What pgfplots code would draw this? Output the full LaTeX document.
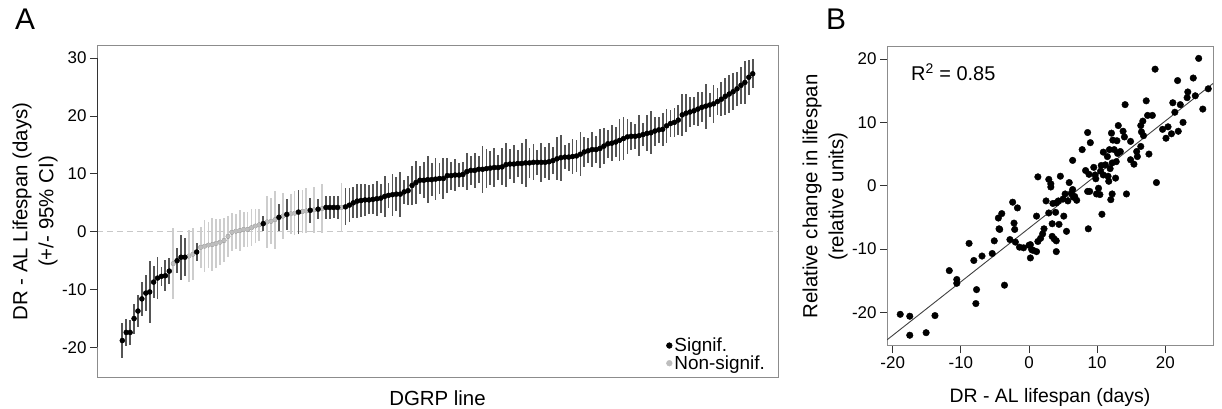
\documentclass[border=0pt]{standalone}
\usepackage{fontspec}
\setmainfont{Liberation Sans}
\usepackage{pgfplots}
\usepackage{pgfplotstable}
\pgfplotsset{compat=1.18}
\definecolor{sigbar}{HTML}{555555}
\definecolor{nsbar}{HTML}{CDCDCD}
\definecolor{nspt}{HTML}{BDBDBD}
\definecolor{framec}{HTML}{8C8C8C}
\definecolor{zerol}{HTML}{C8C8C8}

\pgfplotstableread{
i v e
1 -18.8 3.0
2 -17.4 2.3
3 -17.4 2.2
4 -15.0 2.6
5 -13.7 2.7
6 -11.6 3.0
7 -10.6 3.1
8 -10.4 5.4
9 -8.7 2.7
10 -8.0 3.6
11 -7.7 1.6
12 -7.6 2.7
13 -6.8 2.2
15 -5.0 2.2
16 -4.4 3.9
17 -4.4 3.3
20 -3.5 1.6
37 1.4 1.3
41 2.5 2.3
43 3.0 2.7
46 3.4 3.8
49 3.7 2.2
51 3.9 1.7
53 4.2 2.0
54 4.2 2.0
55 4.2 1.9
56 4.2 2.0
58 4.3 3.2
59 4.6 3.0
60 5.0 2.7
61 5.3 3.0
62 5.4 2.9
63 5.5 2.8
64 5.5 2.5
65 5.6 2.6
66 5.7 3.0
67 5.8 2.5
68 6.1 3.5
69 6.3 2.2
70 6.4 3.6
71 6.5 2.9
72 6.5 3.9
73 6.9 2.1
74 7.1 2.5
75 8.0 3.3
76 8.5 3.7
77 8.9 2.4
78 8.9 3.1
79 9.0 4.1
80 9.0 2.8
81 9.1 3.6
82 9.2 2.6
83 9.2 3.5
84 9.7 3.0
85 9.7 2.4
86 9.8 2.8
87 9.8 2.0
88 9.9 2.2
89 10.4 3.2
90 10.6 2.5
91 10.6 3.0
92 10.8 2.3
93 10.8 4.1
94 10.9 3.4
95 11.0 3.0
96 11.1 3.3
97 11.1 2.1
98 11.2 3.2
99 11.6 3.8
100 11.7 2.6
101 11.7 3.3
102 11.8 2.3
103 11.8 3.6
104 11.9 4.2
105 11.9 2.6
106 12.0 3.1
107 12.0 2.2
108 12.0 3.4
109 12.0 2.7
110 12.1 3.2
111 12.3 2.4
112 12.6 3.7
113 12.8 4.0
114 12.9 2.1
115 12.9 2.4
116 13.0 3.1
117 13.1 2.7
118 13.4 3.8
119 13.8 2.6
120 14.0 2.2
121 14.2 3.0
122 14.2 2.4
123 14.4 3.4
124 14.8 3.1
125 15.2 2.4
126 15.3 3.1
127 15.5 2.6
128 15.8 3.6
129 16.1 3.7
130 16.4 3.0
131 16.5 2.4
132 16.5 2.2
133 16.6 3.5
134 16.8 2.0
135 17.0 3.1
136 17.1 3.7
137 17.4 2.5
138 17.6 2.2
139 17.7 2.8
140 18.3 2.9
141 18.7 2.3
142 18.9 2.5
143 19.3 2.6
144 20.2 3.6
145 20.5 3.3
146 20.7 2.6
147 20.9 2.4
148 21.2 3.0
149 21.5 2.6
150 21.7 3.9
151 21.9 2.1
152 22.1 3.3
153 22.5 2.4
154 22.9 2.9
155 23.4 3.2
156 23.8 3.3
157 24.2 3.2
158 24.7 2.9
159 25.3 3.2
160 25.8 3.7
161 26.7 3.0
162 27.3 2.5
}\sigdata

\pgfplotstableread{
i v e
14 -5.5 6.2
18 -4.2 4.5
19 -3.9 4.5
21 -2.7 3.6
22 -2.5 4.5
23 -2.3 4.0
24 -2.2 4.5
25 -2.0 4.2
26 -1.8 4.0
27 -1.5 3.8
28 -0.8 3.5
29 -0.1 3.3
30 0.1 3.0
31 0.2 3.5
32 0.4 3.0
33 0.4 3.0
34 0.7 3.2
35 1.0 3.0
36 1.2 2.8
38 1.7 4.5
39 1.8 4.0
40 2.1 5.0
42 2.7 4.0
44 3.1 3.5
45 3.2 3.8
47 3.5 3.8
48 3.6 3.9
50 3.8 4.0
52 4.0 4.2
57 4.2 4.3
}\nsdata

\pgfplotstableread{
x y
-18.9 -20.3
-17.5 -20.6
-17.5 -23.6
-15.1 -23.2
-13.8 -20.5
-11.7 -13.4
-10.6 -14.8
-10.6 -15.4
-8.8 -9.1
-8.1 -11.8
-7.7 -16.4
-7.8 -18.6
-6.9 -11.1
-5.4 -10.7
-5.1 -8.7
-4.5 -5.1
-4.0 -4.4
-4.4 -6.8
-4.3 -6.9
-3.6 -15.7
-2.8 -8.5
-2.4 -2.6
-2.2 -5.9
-2.1 -6.9
-1.7 -3.5
-2.0 -8.9
-1.4 -9.7
-0.8 -9.8
0.0 -9.4
0.2 -9.3
0.4 -10.1
0.2 -11.4
0.6 -10.2
1.1 -10.4
1.1 -4.8
1.3 1.4
1.3 -8.8
1.7 -8.3
2.0 -7.6
2.2 -6.8
2.5 -2.4
2.9 1.0
3.2 0.3
3.2 -0.2
2.9 -4.3
3.4 -6.0
3.4 -8.0
3.7 -8.4
4.0 -8.7
4.0 -10.4
3.9 -4.2
3.5 -2.8
4.0 -2.7
4.4 -6.1
4.3 -2.4
4.6 1.5
5.1 -4.8
5.0 -2.1
5.3 -1.3
5.5 -7.2
5.7 -2.4
5.9 0.5
6.2 -1.2
6.4 -0.6
6.5 -1.8
6.4 4.0
6.7 -1.7
7.0 -2.3
7.8 5.7
8.6 8.4
8.7 -6.8
8.3 2.4
8.8 1.8
9.0 6.8
8.9 -0.9
8.6 -0.9
9.5 2.9
9.7 1.7
9.8 1.1
9.9 -1.3
10.2 -0.4
10.4 -1.4
10.5 2.3
10.7 -4.5
10.6 3.2
10.9 1.7
10.9 5.3
11.2 3.3
11.5 4.6
11.6 1.5
11.7 0.7
11.8 5.7
11.9 2.7
12.1 8.3
12.2 -1.3
12.0 -2.2
12.2 3.6
12.3 7.2
12.5 5.7
12.7 1.2
12.8 3.8
12.9 7.1
13.1 9.5
13.0 5.1
13.4 5.4
13.8 8.6
14.0 7.7
14.1 12.8
14.3 -1.3
14.9 7.0
14.9 4.1
15.4 3.4
15.9 4.6
15.8 5.4
16.4 9.5
16.4 6.2
16.5 8.5
16.7 10.2
16.8 7.9
17.2 13.4
17.4 11.1
17.6 5.0
18.1 11.1
18.5 18.4
18.7 0.5
19.6 8.9
20.1 7.5
20.4 9.3
20.9 8.2
21.1 13.1
21.4 11.6
21.8 16.6
21.9 8.6
22.2 12.8
22.6 10.0
23.2 13.9
23.3 14.8
24.1 17.0
24.4 14.2
24.9 20.1
25.5 12.1
26.3 15.3
}\scatdata

\begin{document}
\begin{tikzpicture}
\useasboundingbox (0bp,0bp) rectangle (1222bp,409bp);
\pgfplotsset{
  every axis/.append style={
    font=\fontsize{17}{19}\selectfont,
    /pgf/number format/assume math mode=true,
    scale only axis,
    tick align=outside,
    major tick length=7bp,
    axis line style={framec, line width=1bp},
    tick style={black!80, line width=1bp},
    xtick pos=left, ytick pos=left,
    clip=true,
  },
}
\node[font=\fontsize{30}{32}\selectfont] at (25bp,390bp) {A};
\node[font=\fontsize{30}{32}\selectfont] at (836bp,390bp) {B};

\begin{axis}[
  anchor=south west, at={(97bp,32bp)}, width=681bp, height=331bp,
  xmin=-5.46, xmax=168.46, ymin=-25.1, ymax=32.1,
  xtick=\empty, ytick={-20,-10,0,10,20,30},
  xlabel={DGRP line},
  xlabel style={at={(axis description cs:0.5,-0.063)}, anchor=center, font=\fontsize{20.5}{24}\selectfont},
  ylabel={DR - AL Lifespan (days)\\(+/- 95\% CI)},
  ylabel style={at={(axis description cs:-0.091,0.5)}, anchor=center, align=center, font=\fontsize{20.5}{26}\selectfont},
  legend style={at={(axis description cs:0.984,0.012)}, anchor=south east, draw=none, fill=none, inner sep=0pt, row sep=-1.5bp, font=\fontsize{19}{20}\selectfont},
  legend cell align=left,
  legend image code/.code={\fill[#1] (3bp,0bp) circle (2.9bp);},
]
\addplot[forget plot, zerol, dashed, line width=1.2bp, dash pattern=on 6bp off 4bp] coordinates {(-5.46,0) (168.46,0)};
\addplot[forget plot, only marks, mark=none, error bars/.cd, y dir=both, y explicit, error mark=none, error bar style={nsbar, line width=1.8bp}] table[x=i, y=v, y error=e]{\nsdata};
\addplot[forget plot, only marks, mark=none, error bars/.cd, y dir=both, y explicit, error mark=none, error bar style={sigbar, line width=1.8bp}] table[x=i, y=v, y error=e]{\sigdata};
\addplot[forget plot, only marks, mark=*, mark size=2.2bp, nspt, mark options={draw=none, fill=nspt}] table[x=i, y=v]{\nsdata};
\addplot[forget plot, only marks, mark=*, mark size=2.5bp, black, mark options={draw=none, fill=black}] table[x=i, y=v]{\sigdata};
\draw[black!80, line width=1bp] (axis cs:-5.46,-20) -- (axis cs:-5.46,30);
\addlegendimage{black}
\addlegendentry{Signif.}
\addlegendimage{nspt}
\addlegendentry{Non-signif.}
\end{axis}

\begin{axis}[
  anchor=south west, at={(887bp,63bp)}, width=326bp, height=299bp,
  xmin=-20.84, xmax=27.0, ymin=-25.3, ymax=21.9,
  xtick={-20,-10,0,10,20}, ytick={-20,-10,0,10,20},
  xlabel={DR - AL lifespan (days)},
  xlabel style={at={(axis description cs:0.5,-0.171)}, anchor=center, font=\fontsize{19.5}{23}\selectfont},
  ylabel={Relative change in lifespan\\(relative units)},
  ylabel style={at={(axis description cs:-0.190,0.5)}, anchor=center, align=center, font=\fontsize{20.5}{26}\selectfont},
]
\addplot[black!75, line width=0.9bp] coordinates {(-20.84,-24.33) (27,16.14)};
\addplot[only marks, mark=*, mark size=3.3bp, black, mark options={draw=none, fill=black}] table[x=x, y=y]{\scatdata};
\node[anchor=west, font=\fontsize{20}{22}\selectfont] at (axis cs:-17.8,17.9) {R\textsuperscript{2} = 0.85};
\end{axis}
\end{tikzpicture}
\end{document}
